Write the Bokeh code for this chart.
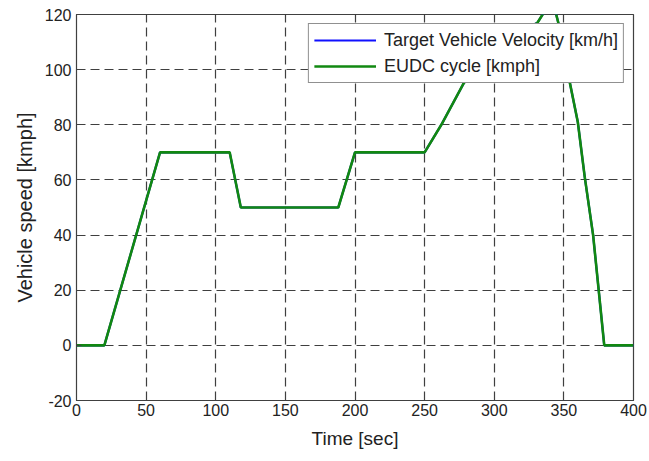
from bokeh.plotting import figure
from bokeh.models import Range1d, FixedTicker, Legend, LegendItem
from bokeh.embed import file_html
from bokeh.resources import INLINE

# EUDC cycle (time [s], speed [km/h])
time_s = [0, 20, 60, 110, 118, 188, 200, 250, 262, 278, 292, 306, 320, 331, 336, 340, 344, 346, 354, 360, 365, 371, 375, 379, 400]
speed_eudc = [0, 0, 70, 70, 50, 50, 70, 70, 80, 95, 104, 110, 114, 117, 121, 122, 121, 117, 96, 81, 61, 40, 20, 0, 0]
# Target vehicle velocity follows the cycle almost exactly
speed_target = [0, 0, 70, 70, 50, 50, 70, 70, 80, 95, 104, 110, 114, 117, 121, 122, 121, 117, 96, 81, 61, 40, 20, 0, 0]

x_ticks = [0, 50, 100, 150, 200, 250, 300, 350, 400]
y_ticks = [-20, 0, 20, 40, 60, 80, 100, 120]
y_tick_labels = ["-20", "0", "20", "40", "60", "80", "100", "120"]

FONT = "Liberation Sans"

p = figure(width=649, height=461, output_backend="svg", toolbar_location=None,
           x_range=Range1d(0, 400), y_range=Range1d(-20, 120),
           min_border_left=76, min_border_right=16, min_border_top=14, min_border_bottom=61)

p.background_fill_color = "white"
p.border_fill_color = "white"
p.outline_line_color = "#404040"
p.outline_line_width = 1.2

for ax, ticks in ((p.xaxis[0], x_ticks), (p.yaxis[0], y_ticks)):
    ax.ticker = FixedTicker(ticks=ticks)
    ax.major_label_text_font = FONT
    ax.major_label_text_font_size = "16px"
    ax.major_label_text_color = "#222222"
    ax.axis_label_text_font = FONT
    ax.axis_label_text_font_size = "19px"
    ax.axis_label_text_font_style = "normal"
    ax.axis_label_text_color = "#222222"
    ax.axis_line_color = "#404040"
    ax.major_tick_in = 5
    ax.major_tick_out = 0
    ax.minor_tick_line_color = None
    ax.major_tick_line_color = "#404040"

p.yaxis.major_label_overrides = {t: s for t, s in zip(y_ticks, y_tick_labels)}
p.yaxis.axis_label_text_font_size = "20px"
p.xaxis.axis_label = "Time [sec]"
p.yaxis.axis_label = "Vehicle speed [kmph]"
p.xaxis.major_label_standoff = 3
p.xaxis.axis_label_standoff = 9
p.yaxis.major_label_standoff = 5
p.yaxis.axis_label_standoff = 6

for g in (p.xgrid[0], p.ygrid[0]):
    g.grid_line_color = "#2a2a2a"
    g.grid_line_dash = "9 5"
    g.grid_line_width = 1.2
    g.grid_line_alpha = 0.9

r_target = p.line(time_s, speed_target, line_color="#1010ff", line_width=2.2)
r_eudc = p.line(time_s, speed_eudc, line_color="#118811", line_width=2.6)

legend = Legend(items=[LegendItem(label="Target Vehicle Velocity [km/h]", renderers=[r_target]),
                       LegendItem(label="EUDC cycle [kmph]", renderers=[r_eudc])],
                location="top_right")
legend.label_text_font = FONT
legend.label_text_font_size = "18px"
legend.label_text_color = "#222222"
legend.border_line_color = "#222222"
legend.border_line_width = 1.2
legend.margin = 9
legend.padding = 5
legend.spacing = 4
legend.glyph_width = 62
legend.label_standoff = 8
legend.label_height = 22
legend.background_fill_alpha = 1.0
p.add_layout(legend)

open("out.html", "w").write(file_html(p, INLINE))
